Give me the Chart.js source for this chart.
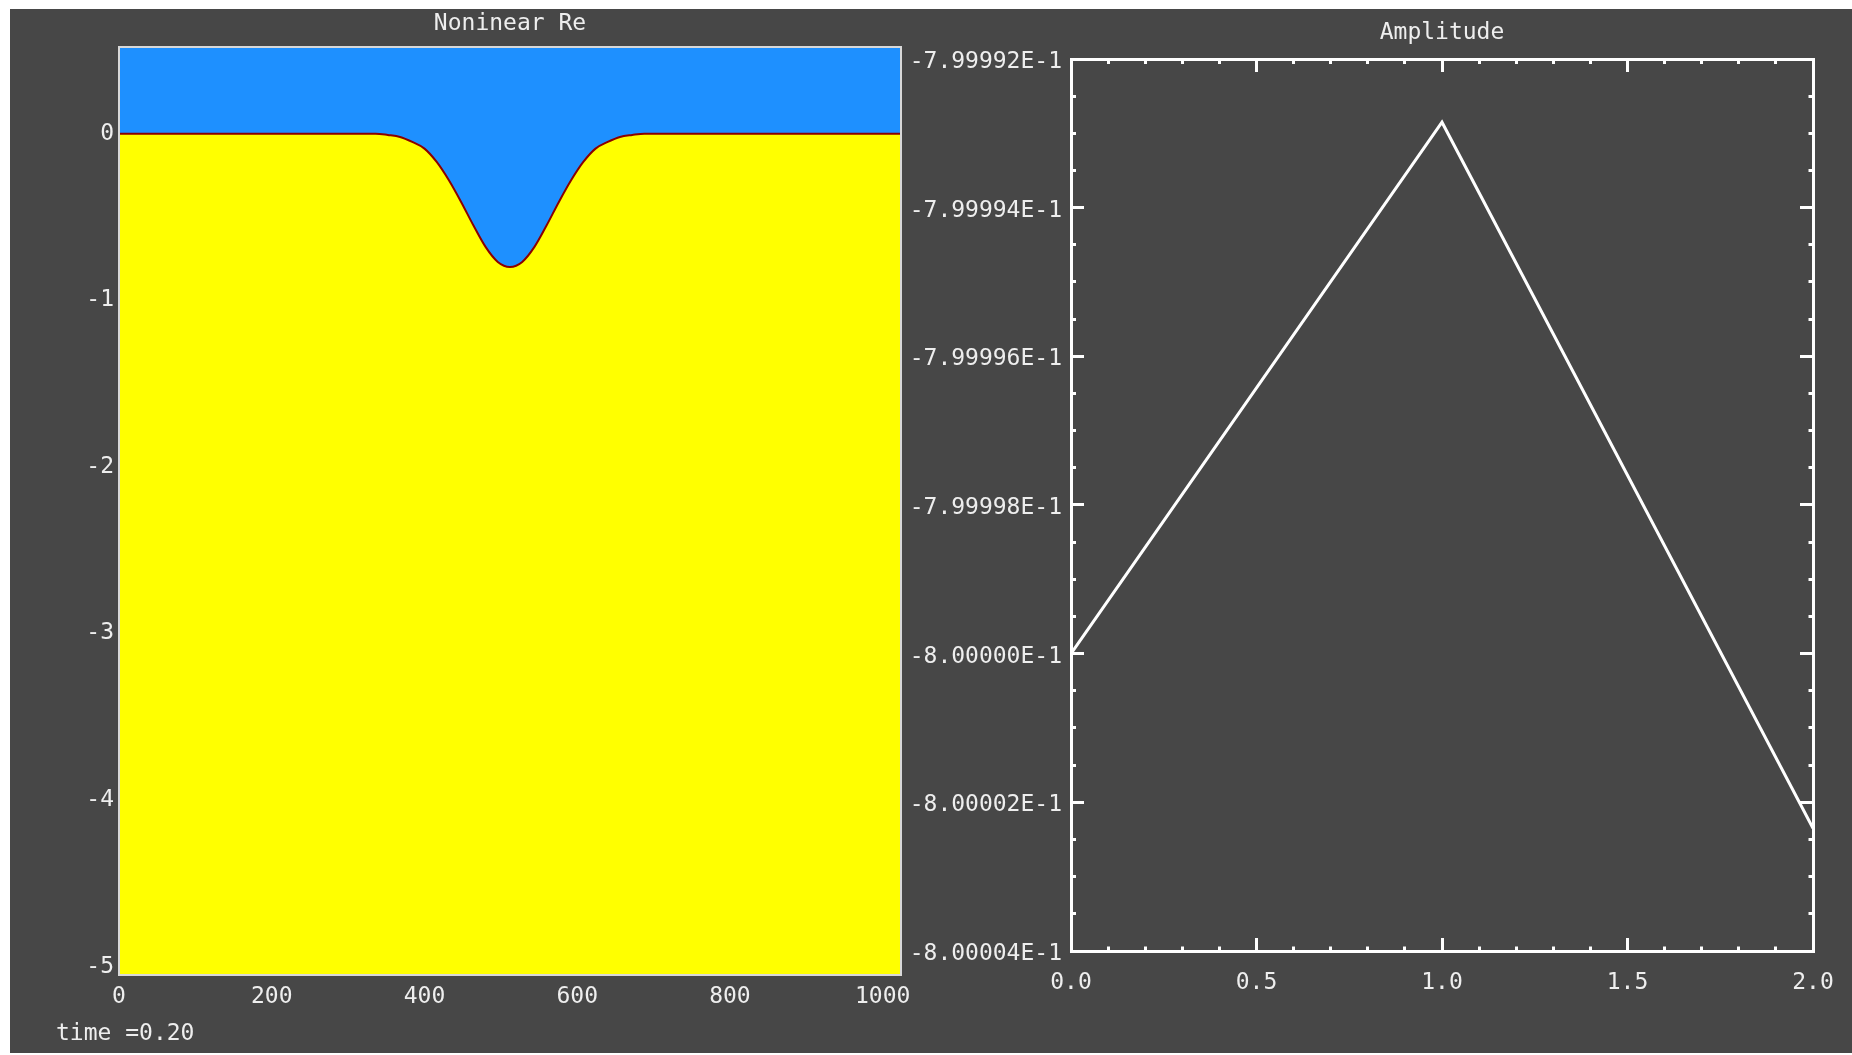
<!DOCTYPE html>
<html>
<head>
<meta charset="utf-8">
<script src="https://cdn.jsdelivr.net/npm/chart.js@4.4.1/dist/chart.umd.min.js"></script>
<style>
  body { margin: 0; background: #fff; }
  #panel { position: absolute; left: 10px; top: 9px; width: 1842px; height: 1044px; background: #474747; }
  #waveChart { position: absolute; left: 10px; top: 9px; }
  #ampChart { position: absolute; left: 910px; top: 9px; }
  #timeLabel { position: absolute; left: 56px; top: 1018px; font: 23px 'DejaVu Sans Mono', monospace; line-height: 28px; color: #eeeeee; }
</style>
</head>
<body>
<div id="panel"></div>
<canvas id="waveChart" width="900" height="1044"></canvas>
<canvas id="ampChart" width="942" height="1044"></canvas>
<div id="timeLabel">time =0.20</div>
<script>
// left panel: profile at time 0.20
const waveX = [0, 336, 352, 368, 384, 400, 416, 432, 448, 464, 480, 496, 512, 528, 544, 560, 576, 592, 608, 624, 640, 656, 672, 688, 1024];
const waveY = [0, 0, -0.008, -0.02, -0.05, -0.09, -0.17, -0.28, -0.41, -0.55, -0.68, -0.77, -0.80, -0.77, -0.68, -0.55, -0.41, -0.28, -0.17, -0.09, -0.05, -0.02, -0.008, 0, 0];
const waveXTicks = [0, 200, 400, 600, 800, 1000];
const waveYTicks = [0, -1, -2, -3, -4, -5];

// right panel: amplitude vs time
const ampTime = [0, 1, 2];
const ampValue = [-0.8, -0.79999285, -0.80000235];
const timeTicks = [0, 0.5, 1, 1.5, 2];
const timeTickLabels = ['0.0', '0.5', '1.0', '1.5', '2.0'];
const ampTicks = [-0.799992, -0.799994, -0.799996, -0.799998, -0.8, -0.800002, -0.800004];
const ampTickLabels = ['-7.99992E-1', '-7.99994E-1', '-7.99996E-1', '-7.99998E-1', '-8.00000E-1', '-8.00002E-1', '-8.00004E-1'];

const FONT = "'DejaVu Sans Mono', monospace";
const TEXT = '#eeeeee';
Chart.defaults.font.family = FONT;
Chart.defaults.font.size = 23;
Chart.defaults.color = TEXT;

// majors with evenly split minors in between
function tickList(values, labels, parts) {
  const pairs = values.map((v, i) => ({ v: v, t: labels[i] })).sort((a, b) => a.v - b.v);
  const out = [];
  pairs.forEach((p, i) => {
    out.push({ value: p.v, isMajor: true, text: p.t });
    const next = pairs[i + 1];
    if (!next) return;
    for (let k = 1; k < parts; k++) {
      out.push({ value: p.v + (next.v - p.v) * k / parts, isMajor: false, text: '' });
    }
  });
  return out;
}

// fixed axis thickness, and no extra room for overhanging labels
function fixSize(size) {
  return s => {
    if (s.isHorizontal()) s.height = size; else s.width = size;
    s.paddingLeft = 0; s.paddingRight = 0; s.paddingTop = 0; s.paddingBottom = 0;
  };
}

// ---- left chart ----
const waveXList = tickList(waveXTicks, waveXTicks.map(String), 1);
const waveYList = tickList(waveYTicks, waveYTicks.map(String), 1);
const waveBorder = { display: true, color: '#d8d8d8', width: 2, z: 1 };

function plainAxis(position, min, max, list, showLabels, padding, size) {
  return {
    type: 'linear', position: position, min: min, max: max,
    afterBuildTicks: s => { s.ticks = list.map(t => Object.assign({}, t)); },
    afterFit: fixSize(size),
    grid: { display: false, drawTicks: false },
    border: waveBorder,
    ticks: {
      display: showLabels, autoSkip: false, maxRotation: 0, minRotation: 0, padding: padding,
      callback: (v, i, arr) => arr[i].text
    }
  };
}

const wavePoints = waveX.map((x, i) => ({ x: x, y: waveY[i] }));

new Chart(document.getElementById('waveChart'), {
  type: 'line',
  data: {
    datasets: [{
      data: wavePoints,
      borderColor: '#8b0000',
      borderWidth: 2,
      backgroundColor: '#ffff00',
      fill: 'start',
      pointRadius: 0,
      cubicInterpolationMode: 'monotone',
      xAxisID: 'x', yAxisID: 'y'
    }, {
      data: wavePoints,
      borderColor: 'rgba(0,0,0,0)',
      borderWidth: 0,
      backgroundColor: '#1e90ff',
      fill: 'end',
      pointRadius: 0,
      cubicInterpolationMode: 'monotone',
      xAxisID: 'x', yAxisID: 'y'
    }]
  },
  options: {
    responsive: false,
    animation: false,
    devicePixelRatio: 1,
    layout: { padding: { left: 0, right: 9, top: 0, bottom: 0 } },
    plugins: {
      legend: { display: false },
      tooltip: { enabled: false },
      title: {
        display: true, text: 'Noninear Re', color: TEXT, fullSize: false,
        font: { family: FONT, size: 23, weight: 'normal' },
        padding: { top: 1, bottom: 9.4 }
      }
    },
    scales: {
      x: plainAxis('bottom', 0, 1024, waveXList, true, 8.5, 78),
      y: plainAxis('left', -5.05, 0.52, waveYList, true, 5, 109),
      x2: plainAxis('top', 0, 1024, waveXList, false, 0, 0),
      y2: plainAxis('right', -5.05, 0.52, waveYList, false, 0, 0)
    }
  }
});

// ---- right chart ----
const timeList = tickList(timeTicks, timeTickLabels, 5);
const ampList = tickList(ampTicks, ampTickLabels, 4);

function frameAxis(position, min, max, list, showLabels, padding, size) {
  const towardFrame = (position === 'left' || position === 'top');
  return {
    type: 'linear', position: position, min: min, max: max,
    afterBuildTicks: s => { s.ticks = list.map(t => Object.assign({}, t)); },
    afterFit: fixSize(size),
    grid: {
      display: true, drawOnChartArea: false, drawTicks: true,
      tickLength: -13, tickWidth: 3, tickColor: '#ffffff',
      tickBorderDash: c => (c.tick && c.tick.isMajor) ? [] : (towardFrame ? [0, 8, 100] : [6.5, 100]),
      z: 1
    },
    border: { display: true, color: '#ffffff', width: 3, z: 1 },
    ticks: {
      display: showLabels, autoSkip: false, maxRotation: 0, minRotation: 0, padding: padding,
      labelOffset: position === 'left' ? 3 : 0,
      callback: (v, i, arr) => arr[i].text
    }
  };
}

const ampMin = Math.min(...ampTicks);
const ampMax = Math.max(...ampTicks);

new Chart(document.getElementById('ampChart'), {
  type: 'line',
  data: {
    datasets: [{
      data: ampTime.map((t, i) => ({ x: t, y: ampValue[i] })),
      borderColor: '#ffffff',
      borderWidth: 3,
      pointRadius: 0,
      fill: false,
      tension: 0,
      xAxisID: 'x', yAxisID: 'y'
    }]
  },
  options: {
    responsive: false,
    animation: false,
    devicePixelRatio: 1,
    layout: { padding: { left: 0, right: 39, top: 0, bottom: 0 } },
    plugins: {
      legend: { display: false },
      tooltip: { enabled: false },
      title: {
        display: true, text: 'Amplitude', color: TEXT, fullSize: false,
        font: { family: FONT, size: 23, weight: 'normal' },
        padding: { top: 10.2, bottom: 12.2 }
      }
    },
    scales: {
      x: frameAxis('bottom', 0, 2, timeList, true, 31.5, 102),
      y: frameAxis('left', ampMin, ampMax, ampList, true, 22, 161),
      x2: frameAxis('top', 0, 2, timeList, false, 0, 0),
      y2: frameAxis('right', ampMin, ampMax, ampList, false, 0, 0)
    }
  }
});
</script>
</body>
</html>
